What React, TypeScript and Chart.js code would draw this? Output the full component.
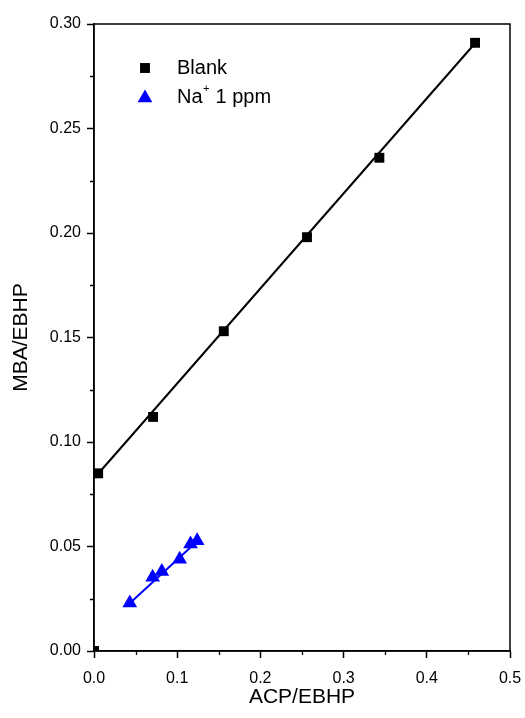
import React, { useEffect, useRef } from 'react';
import { Chart, registerables } from 'chart.js';
import { drawPoint } from 'chart.js/helpers';

Chart.register(...registerables);

// Blank series (MBA/EBHP vs ACP/EBHP)
const blankX = [0.005, 0.071, 0.156, 0.256, 0.343, 0.458];
const blankY = [0.085, 0.112, 0.153, 0.198, 0.236, 0.291];
// small point at the origin (clipped by the axes)
const originX = [0.0];
const originY = [0.0];
// Na+ 1 ppm series
const naX = [0.043, 0.0705, 0.0815, 0.103, 0.116, 0.124];
const naY = [0.023, 0.0353, 0.038, 0.0439, 0.0512, 0.0528];
// linear fit lines
const blankFitX = [0.005, 0.458];
const blankFitY = [0.0848, 0.2908];
const naFitX = [0.043, 0.124];
const naFitY = [0.0228, 0.0525];

const xMinor = [0.05, 0.15, 0.25, 0.35, 0.45];
const yMinor = [0.025, 0.075, 0.125, 0.175, 0.225, 0.275];

const legendNames = ['Blank', 'Na', '+', ' 1 ppm'];

const FONT = "'Liberation Sans', Arial, sans-serif";

const zip = (xs: number[], ys: number[]) => xs.map((x, i) => ({ x, y: ys[i] }));

const framePlugin = {
  id: 'frameAndLegend',
  afterDatasetsDraw(chart: any) {
    const { ctx, chartArea, scales } = chart;
    const xs = scales.x;
    const ys = scales.y;
    ctx.save();
    ctx.strokeStyle = '#000';
    ctx.lineWidth = 1.5;
    ctx.strokeRect(chartArea.left, chartArea.top, chartArea.right - chartArea.left, chartArea.bottom - chartArea.top);
    // minor ticks
    ctx.lineWidth = 1.3;
    ctx.beginPath();
    for (const v of xMinor) {
      const px = Math.round(xs.getPixelForValue(v)) + 0.5;
      ctx.moveTo(px, chartArea.bottom);
      ctx.lineTo(px, chartArea.bottom + 4);
    }
    for (const v of yMinor) {
      const py = Math.round(ys.getPixelForValue(v)) + 0.5;
      ctx.moveTo(chartArea.left, py);
      ctx.lineTo(chartArea.left - 4, py);
    }
    ctx.stroke();

    // legend
    const mx = chartArea.left + 51;
    const tx = chartArea.left + 83;
    const y1 = chartArea.top + 44;
    const y2 = chartArea.top + 73;
    const ds0 = chart.data.datasets[0];
    const ds1 = chart.data.datasets[1];
    ctx.fillStyle = ds0.backgroundColor;
    ctx.strokeStyle = ds0.borderColor;
    drawPoint(ctx, { pointStyle: ds0.pointStyle, radius: ds0.pointRadius, borderWidth: 0, rotation: 0 }, mx, y1);
    ctx.fillStyle = ds1.backgroundColor;
    ctx.strokeStyle = ds1.borderColor;
    drawPoint(ctx, { pointStyle: ds1.pointStyle, radius: ds1.pointRadius, borderWidth: 0, rotation: 0 }, mx, y2 + 1);

    ctx.fillStyle = '#000';
    ctx.textBaseline = 'middle';
    ctx.textAlign = 'left';
    ctx.font = `20px ${FONT}`;
    ctx.fillText(legendNames[0], tx, y1);
    ctx.fillText(legendNames[1], tx, y2);
    const w1 = ctx.measureText(legendNames[1]).width;
    ctx.font = `11px ${FONT}`;
    ctx.fillText(legendNames[2], tx + w1 + 0.5, y2 - 8);
    const w2 = ctx.measureText(legendNames[2]).width;
    ctx.font = `20px ${FONT}`;
    ctx.fillText(legendNames[3], tx + w1 + w2 + 1, y2);
    ctx.restore();
  },
};

export default function App() {
  const ref = useRef<HTMLCanvasElement | null>(null);

  useEffect(() => {
    if (!ref.current) return;
    const chart = new Chart(ref.current, {
      type: 'scatter',
      data: {
        datasets: [
          {
            label: 'Blank',
            data: zip(blankX, blankY),
            pointStyle: 'rect',
            pointRadius: 7,
            backgroundColor: '#000',
            borderColor: '#000',
            borderWidth: 0,
            showLine: false,
            order: 1,
          },
          {
            label: 'Na+ 1 ppm',
            data: zip(naX, naY),
            pointStyle: 'triangle',
            pointRadius: 8.5,
            backgroundColor: '#0000ff',
            borderColor: '#0000ff',
            borderWidth: 0,
            showLine: false,
            order: 1,
          },
          {
            label: 'origin',
            data: zip(originX, originY),
            pointStyle: 'rect',
            pointRadius: 7,
            backgroundColor: '#000',
            borderColor: '#000',
            borderWidth: 0,
            showLine: false,
            clip: 0,
            order: 1,
          },
          {
            label: 'Blank fit',
            data: zip(blankFitX, blankFitY),
            showLine: true,
            pointRadius: 0,
            borderColor: '#000',
            borderWidth: 2,
            order: 2,
          },
          {
            label: 'Na fit',
            data: zip(naFitX, naFitY),
            showLine: true,
            pointRadius: 0,
            borderColor: '#0000ff',
            borderWidth: 2,
            order: 2,
          },
        ],
      },
      options: {
        animation: false,
        responsive: true,
        maintainAspectRatio: false,
        layout: { padding: { top: 24, right: 15, left: 0, bottom: 0 } },
        plugins: { legend: { display: false }, tooltip: { enabled: false } },
        scales: {
          x: {
            type: 'linear',
            min: 0,
            max: 0.5,
            afterFit: (s: any) => { s.height = 67; s.paddingRight = 15; s.paddingLeft = 0; },
            ticks: {
              stepSize: 0.1,
              padding: 11,
              color: '#000',
              font: { family: FONT, size: 16 },
              callback: (v: any) => Number(v).toFixed(1),
            },
            grid: { display: true, drawOnChartArea: false, drawTicks: true, tickLength: 7, tickColor: '#000', tickWidth: 1.5 },
            border: { display: true, color: '#000', width: 1.5 },
            title: {
              display: true,
              text: 'ACP/EBHP',
              color: '#000',
              font: { family: FONT, size: 21 },
              padding: { top: 0, bottom: 8 },
            },
          },
          y: {
            type: 'linear',
            min: 0,
            max: 0.3,
            afterFit: (s: any) => { s.width = 94; },
            ticks: {
              stepSize: 0.05,
              padding: 6,
              color: '#000',
              font: { family: FONT, size: 16 },
              callback: (v: any) => Number(v).toFixed(2),
            },
            grid: { display: true, drawOnChartArea: false, drawTicks: true, tickLength: 7, tickColor: '#000', tickWidth: 1.5 },
            border: { display: true, color: '#000', width: 1.5 },
            title: {
              display: true,
              text: 'MBA/EBHP',
              color: '#000',
              font: { family: FONT, size: 21 },
              padding: { top: 9, bottom: 0 },
            },
          },
        },
      },
      plugins: [framePlugin],
    });
    return () => chart.destroy();
  }, []);

  return (
    <div style={{ position: 'fixed', left: 0, top: 0, width: 525, height: 718, background: '#fff' }}>
      <canvas ref={ref} />
    </div>
  );
}
